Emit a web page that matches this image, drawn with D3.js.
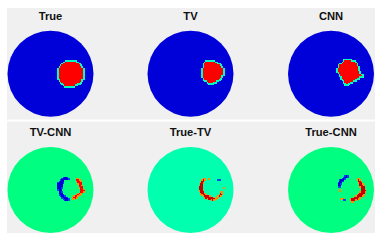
<!DOCTYPE html>
<html>
<head>
<meta charset="utf-8">
<script src="https://cdn.jsdelivr.net/npm/d3@7"></script>
<style>
  body { margin: 0; background: #fff; }
  svg { display: block; }
  text { font-family: "Liberation Sans", sans-serif; font-weight: bold; font-size: 11.2px; fill: #111; }
</style>
</head>
<body>
<svg id="chart"></svg>
<script>
// image panels, row/column order as in the figure
const titles = ['True', 'TV', 'CNN', 'TV-CNN', 'True-TV', 'True-CNN'];
const background = [-1, -1, -1, 0, -0.09, 0];

// each run is [grid row, first col, last col] on a 64x64 grid
const trueRed = [[22,43,50],[23,41,52],[24,40,53],[25,39,54],[26,38,55],[27,38,55],[28,37,56],[29,37,56],[30,37,56],[31,37,56],[32,37,56],[33,37,56],[34,37,56],[35,37,56],[36,38,55],[37,38,55],[38,39,54],[39,40,53],[40,41,51],[41,42,49]];
const tvRed = [[22,43,49],[23,42,51],[24,41,53],[25,41,54],[26,41,55],[27,41,55],[28,40,56],[29,40,56],[30,40,56],[31,40,56],[32,40,56],[33,40,55],[34,40,55],[35,41,54],[36,41,53],[37,42,52],[38,44,50],[39,45,48]];
const cnnRed = [[21,41,46],[22,41,49],[23,40,50],[24,38,51],[25,37,51],[26,37,52],[27,37,52],[28,36,52],[29,36,52],[30,36,53],[31,37,53],[32,38,55],[33,38,55],[34,39,55],[35,39,52],[36,40,50],[37,41,50],[38,41,47],[39,42,45],[40,42,44]];
const tvCnnRed = [[23,51,52],[24,51,53],[25,51,54],[26,52,54],[27,52,54],[28,53,55],[29,53,55],[30,53,55],[31,54,56],[32,54,56],[33,54,56],[34,52,54],[35,51,53],[36,49,52],[37,48,51],[38,48,49]];
const tvCnnBlue = [[22,41,44],[23,40,45],[24,39,41],[25,38,41],[26,37,41],[27,37,40],[28,37,40],[29,37,40],[30,37,40],[31,37,39],[32,38,39],[33,38,40],[34,38,40],[35,38,41],[36,39,42],[37,40,44],[38,41,45],[39,42,45]];
const trueTvRed = [[23,41,42],[23,45,45],[24,40,42],[25,40,41],[26,39,41],[27,39,40],[28,38,40],[29,38,40],[30,38,40],[30,56,56],[31,38,40],[32,38,41],[33,39,41],[33,54,55],[34,39,42],[34,54,55],[35,40,43],[35,53,54],[36,41,46],[36,52,54],[37,42,49],[37,51,52],[38,44,50],[39,47,49]];
const trueTvBlue = [[24,52,53]];
const trueCnnRed = [[23,51,52],[24,51,53],[25,52,54],[26,52,54],[27,53,55],[28,53,56],[29,53,56],[30,54,56],[31,38,38],[31,54,57],[32,38,38],[32,54,57],[33,53,57],[34,52,56],[35,51,56],[36,50,55],[37,48,53],[38,39,40],[38,46,52],[39,46,50],[40,47,48]];
const trueCnnBlue = [[21,42,44],[22,41,44],[23,40,42],[24,38,40],[25,38,40],[26,37,39],[27,37,39],[28,37,38],[29,37,38],[39,41,42]];

const redRuns = [trueRed, tvRed, cnnRed, tvCnnRed, trueTvRed, trueCnnRed];
const blueRuns = [[], [], [], tvCnnBlue, trueTvBlue, trueCnnBlue];
const redCore = [1, 1, 1, 1, 1.2, 1.2];
const edgeValue = [-0.12, -0.12, -0.12, 0.72, 0.72, 0.72];
const coreNeighbours = [4, 4, 4, 3, 3, 3];

const width = 380, height = 242;
const radius = 43;
const gridSize = 64;

const svg = d3.select('#chart').attr('width', width).attr('height', height);

const defs = svg.append('defs');
defs.append('filter').attr('id', 'soft')
  .attr('color-interpolation-filters', 'sRGB')
  .append('feGaussianBlur').attr('stdDeviation', 0.35);

const color = d3.scaleLinear()
  .domain([-1, -0.5, -0.25, 0, 0.3, 0.55, 0.75, 1, 1.3])
  .range(['#0000d8', '#0090ff', '#00ffff', '#00ff80', '#b0ff00', '#ffe000', '#ff8000', '#ff0000', '#a80000']);

// grey plates behind each row of images
const plates = [[8, 119.5], [121.5, 233]];
svg.selectAll('rect.plate').data(plates).join('rect')
  .attr('class', 'plate')
  .attr('x', 7).attr('width', 368)
  .attr('y', d => d[0]).attr('height', d => d[1] - d[0])
  .attr('fill', '#f0f0f0');

const colX = [50.5, 190.5, 331];
const rowY = [73.7, 190];

titles.forEach((title, i) => {
  const cx = colX[i % 3];
  const cy = rowY[Math.floor(i / 3)];

  const x = d3.scaleLinear().domain([0, gridSize]).range([cx - radius, cx + radius]);
  const y = d3.scaleLinear().domain([0, gridSize]).range([cy - radius, cy + radius]);

  svg.append('text')
    .attr('x', cx)
    .attr('y', cy - (i < 3 ? 53.7 : 54))
    .attr('text-anchor', 'middle')
    .text(title);

  const g = svg.append('g').attr('filter', 'url(#soft)');

  g.append('circle')
    .attr('cx', x(gridSize / 2))
    .attr('cy', y(gridSize / 2))
    .attr('r', x(gridSize / 2) - x(0))
    .attr('fill', color(background[i]));

  const drawRuns = (runs, value, edge) => {
    const inside = new Set();
    runs.forEach(([r, c0, c1]) => d3.range(c0, c1 + 1).forEach(c => inside.add(r + ':' + c)));
    const cells = Array.from(inside, k => k.split(':').map(Number));
    g.selectAll(null).data(cells).join('rect')
      .attr('x', d => x(d[1]))
      .attr('y', d => y(d[0]))
      .attr('width', x(1) - x(0) + 0.5)
      .attr('height', y(1) - y(0) + 0.5)
      .attr('shape-rendering', 'crispEdges')
      .attr('fill', ([r, c]) => {
        const around = [[r - 1, c], [r + 1, c], [r, c - 1], [r, c + 1]]
          .filter(n => inside.has(n[0] + ':' + n[1])).length;
        return color(around >= coreNeighbours[i] ? value : edge);
      });
  };

  drawRuns(redRuns[i], redCore[i], edgeValue[i]);
  drawRuns(blueRuns[i], -1, -0.75);
});
</script>
</body>
</html>
